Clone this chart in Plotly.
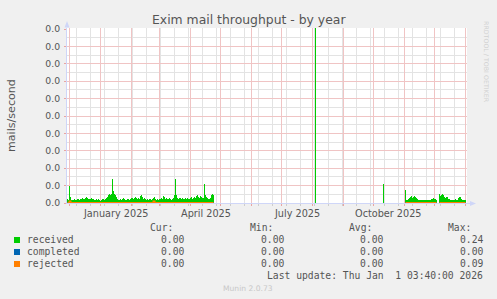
import pandas as pd
import plotly.graph_objects as go

# ---------------- data (mails/second, written in units of 1e-4) ----------------
left_start = "2024-11-29"
received_left_e4 = [
    4, 3, 17, 6, 3,
    3, 3, 4, 3, 3, 4, 4, 3,
    4, 4, 5, 4, 4, 5, 6, 5, 4, 4, 4, 5, 4,
    4, 3, 3, 4, 3, 4, 3, 2, 3, 4, 4, 3, 4, 5,
    6, 8, 9, 8, 9,
    24,
    12, 9, 8, 6,
    4, 3, 3, 4, 3, 4, 5, 4, 3, 3, 4, 4, 3,
    4, 5, 5, 4, 5, 6, 5, 4, 5, 4,
    7, 8, 6, 4, 5, 4, 3,
    4, 3, 4, 4, 3, 4,
    5, 6, 4, 3, 4, 3, 4,
    4, 5, 4, 7, 6, 4, 5, 4, 4, 5, 4, 3, 4, 5,
    8,
    24,
    8, 5, 4, 5, 5, 4, 5, 4, 4, 5, 4,
    5, 4, 4, 5, 6, 4, 5, 6, 5, 7, 8, 6, 5, 7, 6, 5, 5,
    19,
    8, 6, 5, 4, 4, 5, 8, 9, 8,
]
spike_dates = ["2025-08-04", "2025-10-11"]
spike_values_e4 = [2400, 19]
right_start = "2025-11-02"
received_right_e4 = [
    13,
    3, 3, 4,
    5, 6, 7, 5, 6, 7, 6, 5, 4,
    3, 3, 3, 3, 3, 3, 3, 3, 3, 3, 3, 3,
    3, 4, 4, 5, 4, 4, 3,
    None, None,
    9, 7, 8, 9, 8, 6,
    5, 6, 6, 4, 4,
    3, 3, 3, 3, 3, 4, 3, 3,
    5, 6, 6, 4,
    3, 3, 3, 3,
]
rejected_nonzero_e4 = {"2024-12-01": 1.5, "2025-02-23": 1.5}

y_tick_step = 0.00174
y_tick_count = 11
month_label_dates = ["2025-01-16", "2025-04-16", "2025-07-16", "2025-10-16"]
month_labels = ["January 2025", "April 2025", "July 2025", "October 2025"]

legend_names = ["received", "completed", "rejected"]
legend_colors = ["#00CC00", "#0066B3", "#FF8000"]
cur_vals = ["0.00", "0.00", "0.00"]
min_vals = ["0.00", "0.00", "0.00"]
avg_vals = ["0.00", "0.00", "0.00"]
max_vals = ["0.24", "0.00", "0.09"]
last_update = "Last update: Thu Jan \u00a01 03:40:00 2026"

# ---------------- layout geometry ----------------
W, H = 497, 299
L, T, PW, PH = 67, 28, 400, 175
def px(x):
    return (x - L) / PW
def py(y):
    return (T + PH - y) / PH

E4 = 1e-4
left_dates = pd.date_range(left_start, periods=len(received_left_e4), freq="D")
right_dates = pd.date_range(right_start, periods=len(received_right_e4), freq="D")

rx = list(left_dates) + [pd.Timestamp(d) for d in spike_dates] + list(right_dates)
ry = ([v * E4 for v in received_left_e4] + [v * E4 for v in spike_values_e4]
      + [None if v is None else v * E4 for v in received_right_e4])

def zero_series(dates, vals):
    out = []
    for d, v in zip(dates, vals):
        if v is None:
            out.append(None)
        else:
            out.append(rejected_nonzero_e4.get(d.strftime("%Y-%m-%d"), 0.0) * E4)
    return out

fig = go.Figure()
fig.add_trace(go.Bar(x=rx, y=ry, width=86400000, marker=dict(color="#00CC00", line=dict(width=0)),
                     showlegend=False, hoverinfo="skip"))
for dates, vals in [(left_dates, received_left_e4), (right_dates, received_right_e4)]:
    fig.add_trace(go.Scatter(x=list(dates), y=[None if v is None else 0.0 for v in vals], mode="lines",
                             line=dict(color="#0066B3", width=2, shape="hv"), showlegend=False,
                             hoverinfo="skip"))
for dates, vals in [(left_dates, received_left_e4), (right_dates, received_right_e4)]:
    fig.add_trace(go.Scatter(x=list(dates), y=zero_series(dates, vals), mode="lines",
                             line=dict(color="#FF8000", width=2, shape="hv"), showlegend=False,
                             hoverinfo="skip"))

MAJOR = "#F0C4C4"
MINOR = "#E3E3E3"
TICKMAJ = "#E9A3A3"
AXIS = "#CFD6F8"
FONT = "DejaVu Sans"
MONO = "DejaVu Sans Mono"
TXT = "#555555"

month_starts = list(pd.date_range("2024-12-01", "2026-01-01", freq="MS"))
fortnights = list(pd.date_range("2024-12-08", "2025-12-31", freq="14D"))
y_major = [k * y_tick_step for k in range(y_tick_count)]
y_minor = [(k + 0.5) * y_tick_step for k in range(y_tick_count - 1)]

fig.update_layout(
    width=W, height=H, margin=dict(l=L, r=W - L - PW, t=T, b=H - T - PH),
    paper_bgcolor="#F0F0F0", plot_bgcolor="#FFFFFF", bargap=0, showlegend=False,
    font=dict(family=FONT, color=TXT),
    xaxis=dict(type="date", range=["2024-11-28 12:00", "2026-01-02 12:00"],
               tickmode="array", tickvals=month_starts, showgrid=True, gridcolor=MAJOR, gridwidth=1,
               ticks="outside", ticklen=2, tickcolor=TICKMAJ,
               showticklabels=False, showline=True, linecolor=AXIS, linewidth=1, zeroline=False,
               minor=dict(tickmode="array", tickvals=fortnights, showgrid=True, gridcolor=MINOR,
                          ticks="outside", ticklen=2, tickcolor="#CDCDCD")),
    yaxis=dict(range=[0, 0.0175], tickmode="array", tickvals=y_major, tickformat=".1f",
               showgrid=True, gridcolor=MAJOR, ticks="outside", ticklen=2,
               tickcolor=TICKMAJ, showline=True, linecolor=AXIS, linewidth=1, zeroline=False,
               ticklabelstandoff=2, tickfont=dict(family=FONT, size=9.3, color=TXT),
               minor=dict(tickmode="array", tickvals=y_minor, showgrid=True, gridcolor=MINOR)),
)

ann = []
ann.append(dict(text="Exim mail throughput - by year", x=px(248.5), y=py(19.5), xref="paper", yref="paper",
                xanchor="center", yanchor="middle", showarrow=False, font=dict(family=FONT, size=12.4, color=TXT)))
ann.append(dict(text="mails/second", x=px(11), y=py(115), xref="paper", yref="paper", textangle=-90,
                xanchor="center", yanchor="middle", showarrow=False, font=dict(family=FONT, size=11.1, color=TXT)))
ann.append(dict(text="RRDTOOL / TOBI OETIKER", x=px(487), y=py(62), xref="paper", yref="paper", textangle=90,
                xanchor="center", yanchor="middle", showarrow=False, font=dict(family=FONT, size=6.3, color="#D0D0D0")))
for d, lab in zip(month_label_dates, month_labels):
    ann.append(dict(text=lab, x=d, xref="x", y=py(213), yref="paper", xanchor="center", yanchor="middle",
                    showarrow=False, font=dict(family=FONT, size=9.7, color=TXT)))
col_right = [184.3, 284.3, 383.3, 482.7]
headers = ["Cur:", "Min:", "Avg:", "Max:"]
for xr, h in zip(col_right, headers):
    ann.append(dict(text=h, x=px(xr - 11.7), y=py(227.5), xref="paper", yref="paper", xanchor="right",
                    yanchor="middle", showarrow=False, borderpad=0, borderwidth=0,
                    font=dict(family=MONO, size=9.7, color=TXT)))
row_y = [240, 252, 264]
shapes = []
for i, name in enumerate(legend_names):
    yy = row_y[i]
    shapes.append(dict(type="rect", xref="paper", yref="paper", x0=px(14), x1=px(20), y0=py(yy + 3), y1=py(yy - 3),
                       fillcolor=legend_colors[i], line=dict(width=0)))
    ann.append(dict(text=name, x=px(26.7), y=py(yy - 0.3), xref="paper", yref="paper", xanchor="left",
                    yanchor="middle", showarrow=False, borderpad=0, borderwidth=0,
                    font=dict(family=MONO, size=9.7, color=TXT)))
    for xr, vals in zip(col_right, [cur_vals, min_vals, avg_vals, max_vals]):
        ann.append(dict(text=vals[i], x=px(xr), y=py(yy - 0.3), xref="paper", yref="paper", xanchor="right",
                        yanchor="middle", showarrow=False, borderpad=0, borderwidth=0,
                        font=dict(family=MONO, size=9.7, color=TXT)))
ann.append(dict(text=last_update, x=px(482.7), y=py(275.5), xref="paper", yref="paper", xanchor="right",
                yanchor="middle", showarrow=False, borderpad=0, borderwidth=0,
                font=dict(family=MONO, size=9.7, color=TXT)))
ann.append(dict(text="Munin 2.0.73", x=px(248), y=py(288.5), xref="paper", yref="paper", xanchor="center",
                yanchor="middle", showarrow=False, font=dict(family=FONT, size=7.6, color="#C8C8C8")))

# axis arrows
shapes.append(dict(type="path", xref="paper", yref="paper",
                   path=f"M {px(64.5)},{py(27.5)} L {px(69.5)},{py(27.5)} L {px(67)},{py(21)} Z",
                   fillcolor=AXIS, line=dict(width=0)))
shapes.append(dict(type="line", xref="paper", yref="paper", x0=px(467), x1=px(471), y0=py(203.5), y1=py(203.5),
                   line=dict(color=AXIS, width=1)))
shapes.append(dict(type="path", xref="paper", yref="paper",
                   path=f"M {px(470)},{py(201)} L {px(470)},{py(206)} L {px(476)},{py(203.5)} Z",
                   fillcolor=AXIS, line=dict(width=0)))

fig.update_layout(annotations=ann, shapes=shapes)
fig.write_html("out.html")
